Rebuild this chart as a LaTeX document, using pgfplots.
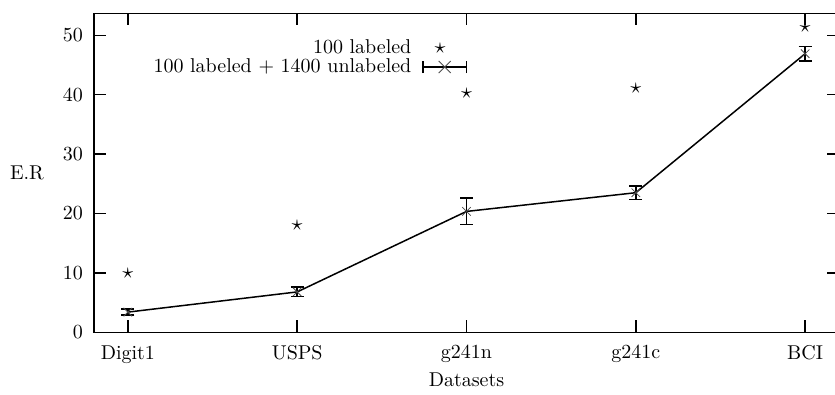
\documentclass[border=0pt]{standalone}
\usepackage{pgfplots}
\pgfplotsset{compat=1.18}
\begin{document}
\begin{tikzpicture}
\begin{axis}[
 scale only axis, width=372.5pt, height=159.5pt,
 xmin=-0.2, xmax=4.2, ymin=0, ymax=53.7,
 xtick={0,1,2,3,4}, xticklabels={Digit1,USPS,g241n,g241c,BCI},
 ytick={0,10,...,50},
 tick align=inside, major tick length=6pt,
 axis line style={line width=0.7pt},
 every tick/.style={line width=0.7pt, black},
 xticklabel style={yshift=-3pt},
 yticklabel style={xshift=-2pt},
 xlabel={Datasets}, ylabel={E.R},
 every axis x label/.style={at={(axis description cs:0.5,0)}, anchor=center, yshift=-23.5pt},
 every axis y label/.style={at={(axis description cs:0,0.5)}, anchor=center, xshift=-33.5pt},
 legend style={draw=none, fill=none, at={(0.5,1)}, anchor=north east, xshift=3.5pt, yshift=-9pt,
   legend cell align=right, row sep=-3pt, column sep=3.5pt},
 legend plot pos=right,
]
\addplot[only marks, mark=text, text mark={\fontsize{11.2}{12}\selectfont$\star$}] coordinates {(0,10.0) (1,18.0) (2,40.2) (3,41.0) (4,51.4)};
\addlegendentry{100 labeled}
\addplot[black, line width=0.75pt, mark=x, mark size=3pt,
  mark options={line width=0.4pt, black!70},
  legend image code/.code={
    \draw[line width=0.75pt] (0cm,0cm) -- (0.76cm,0cm);
    \draw[line width=0.75pt] (0cm,-3pt) -- (0cm,3pt);
    \draw[line width=0.75pt] (0.76cm,-3pt) -- (0.76cm,3pt);
    \draw[line width=0.4pt, black!70] (0.38cm-3pt,-3pt) -- (0.38cm+3pt,3pt);
    \draw[line width=0.4pt, black!70] (0.38cm-3pt,3pt) -- (0.38cm+3pt,-3pt);
  },
  error bars/.cd, y dir=both, y explicit,
  error bar style={line width=0.7pt, black},
  error mark options={mark size=3.2pt, line width=0.7pt, black, rotate=90}]
 table[x=x, y=y, y error=e] {
x y e
0 3.4 0.5
1 6.8 0.8
2 20.35 2.25
3 23.5 1.1
4 46.9 1.2
};
\addlegendentry{100 labeled + 1400 unlabeled}
\end{axis}
\pgfresetboundingbox
\path ([xshift=-47pt,yshift=-31pt]current axis.south west) rectangle ([xshift=-2pt,yshift=6.65pt]current axis.north east);
\end{tikzpicture}
\end{document}
